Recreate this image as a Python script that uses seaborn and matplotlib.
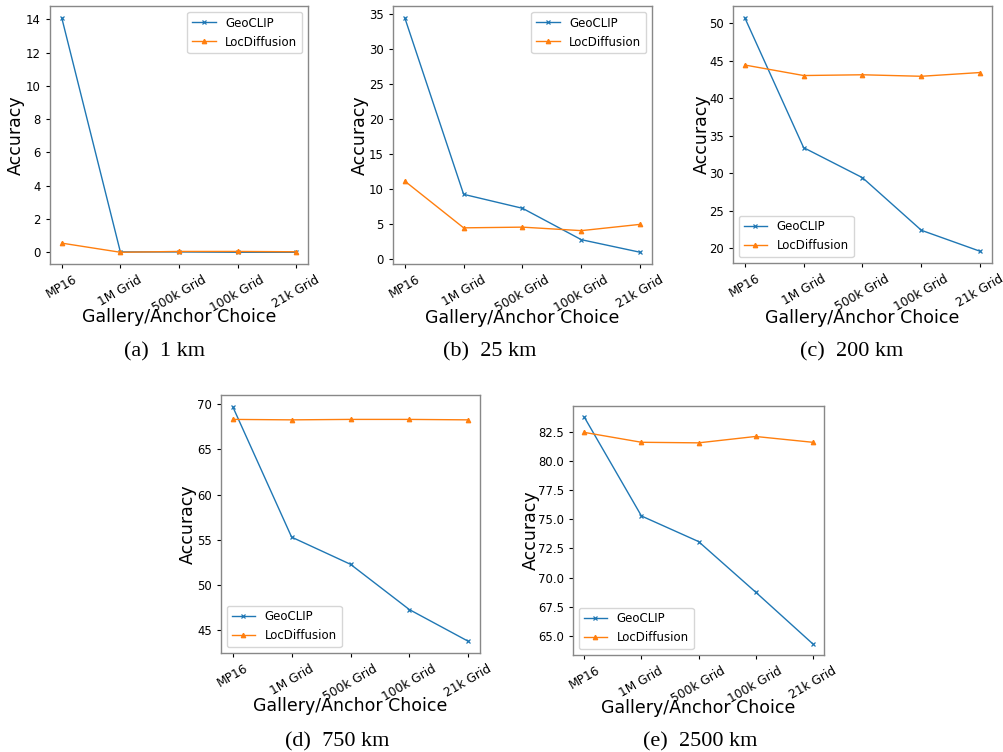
import matplotlib
matplotlib.use("Agg")
import matplotlib.pyplot as plt
import seaborn as sns
import pandas as pd

categories = ["MP16", "1M Grid", "500k Grid", "100k Grid", "21k Grid"]
series_names = ["GeoCLIP", "LocDiffusion"]

geoclip_1km = [14.1, 0.02, 0.02, 0.0, 0.0]
locdiff_1km = [0.55, 0.0, 0.05, 0.05, 0.03]
geoclip_25km = [34.5, 9.2, 7.2, 2.7, 0.9]
locdiff_25km = [11.1, 4.4, 4.5, 4.0, 4.9]
geoclip_200km = [50.7, 33.4, 29.4, 22.4, 19.6]
locdiff_200km = [44.4, 43.0, 43.1, 42.9, 43.4]
geoclip_750km = [69.7, 55.3, 52.3, 47.3, 43.8]
locdiff_750km = [68.3, 68.25, 68.3, 68.3, 68.25]
geoclip_2500km = [83.8, 75.3, 73.1, 68.75, 64.3]
locdiff_2500km = [82.5, 81.65, 81.6, 82.15, 81.65]

captions = ["(a)  1 km", "(b)  25 km", "(c)  200 km", "(d)  750 km", "(e)  2500 km"]
legend_locs = ["upper right", "upper right", "lower left", "lower left", "lower left"]

panels = [
    (geoclip_1km, locdiff_1km),
    (geoclip_25km, locdiff_25km),
    (geoclip_200km, locdiff_200km),
    (geoclip_750km, locdiff_750km),
    (geoclip_2500km, locdiff_2500km),
]

plt.rcParams["font.family"] = ["DejaVu Sans"]
plt.rcParams["text.color"] = "black"

W, H = 1004, 752
fig = plt.figure(figsize=(W / 100, H / 100), dpi=100)
fig.patch.set_facecolor("white")

# axes boxes in pixels: (left, top, right, bottom)
boxes = [
    (50, 6, 308, 264),
    (393, 6, 652, 264),
    (733, 6, 992, 263),
    (221, 395, 480, 653),
    (573, 406, 824, 655),
]
# label centres in pixels: x of y-label, y of x-label
ylabel_x = [16, 360, 702, 188, 531]
xlabel_y = [317, 318, 318, 706, 708]
caption_pos = [(165, 352), (490, 352), (852, 352), (337, 742), (700, 742)]

colors = ["#1f77b4", "#ff7f0e"]
markers = ["x", "^"]

for i, series in enumerate(panels):
    x0, y0, x1, y1 = boxes[i]
    aw, ah = x1 - x0, y1 - y0
    ax = fig.add_axes([x0 / W, 1 - y1 / H, aw / W, ah / H])
    for j, vals in enumerate(series):
        df = pd.DataFrame({"choice": categories, "acc": vals})
        sns.lineplot(data=df, x="choice", y="acc", color=colors[j],
                     marker=markers[j], markersize=3.5 if j == 0 else 3.2,
                     markeredgewidth=0.9, markeredgecolor=colors[j],
                     linewidth=1.0, label=series_names[j], ax=ax, sort=False)
    ax.set_xlabel("Gallery/Anchor Choice", fontsize=12.5, va="center", color="black")
    ax.set_ylabel("Accuracy", fontsize=12.5, va="center", color="black")
    ax.xaxis.set_label_coords(0.5, (y1 - xlabel_y[i]) / ah)
    ax.yaxis.set_label_coords((ylabel_x[i] - x0) / aw, 0.5)
    ax.tick_params(axis="both", length=3, width=0.8, colors="black")
    ax.tick_params(axis="y", labelsize=8.4)
    ax.tick_params(axis="x", labelsize=8.8)
    for lab in ax.get_xticklabels():
        lab.set_rotation(30)
    ax.margins(x=0.05, y=0.05)
    ax.set_facecolor("white")
    for s in ax.spines.values():
        s.set_color("#888888")
        s.set_linewidth(1.0)
    ax.legend(loc=legend_locs[i], fontsize=8.5, frameon=True,
              fancybox=True, edgecolor="#cccccc", framealpha=0.8,
              handlelength=2.0)
    cx, cy = caption_pos[i]
    fig.text(cx / W, 1 - cy / H, captions[i], ha="center", va="center",
             fontsize=16, family=["Liberation Serif", "DejaVu Serif"])

fig.savefig("out.png", dpi=100, facecolor="white")
